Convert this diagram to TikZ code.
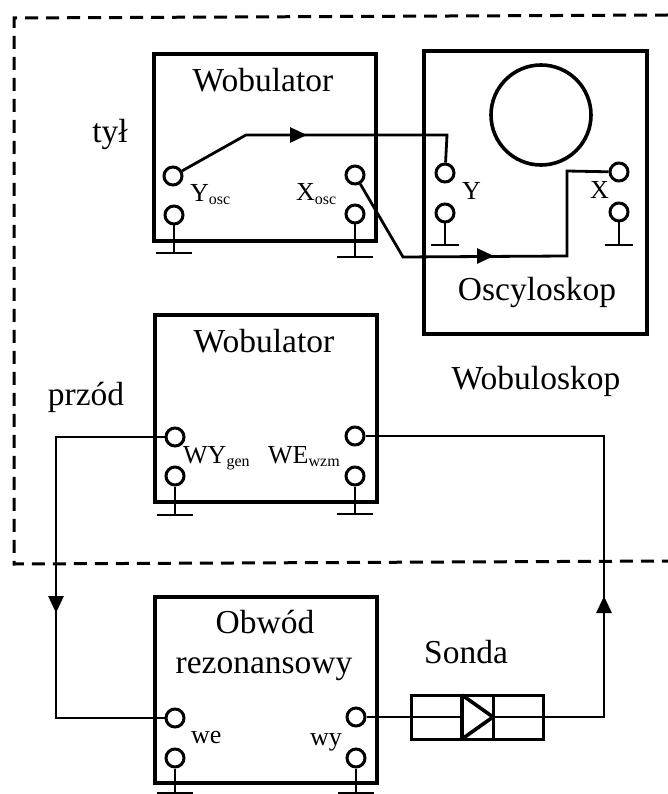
\documentclass[tikz,border=0pt]{standalone}
\usepackage{fontspec}
\setmainfont{Liberation Serif}
\usetikzlibrary{arrows.meta}
\newcommand{\bigtxt}{\fontsize{33.5}{36}\selectfont}
\newcommand{\labtxt}{\fontsize{26}{29}\selectfont}
\newcommand{\lowtxt}[1]{\raisebox{-3pt}{\fontsize{16}{18}\selectfont #1}}
\tikzset{
  unit/.style={draw,line width=4pt,minimum width=#1,inner sep=0pt,outer sep=0pt,anchor=north west},
  port/.style={draw,circle,line width=3pt,minimum size=18pt,inner sep=0pt},
  wire/.style={line width=2.8pt,line join=miter},
  arrowed/.style={line width=2.8pt,-{Triangle[length=17pt,width=15pt]}},
  txt/.style={anchor=base,inner sep=0pt,font=\bigtxt},
  ltxt/.style={anchor=base west,inner sep=0pt,font=\labtxt},
  gnd/.style={line width=2.8pt},
  border/.style={line width=3pt,dash pattern=on 13pt off 8pt}
}
\newcommand{\earth}[5]{% name, port, x, y, half bar
  \coordinate (#1) at (#3,#4);
  \coordinate (#1l) at (#3-#5,#4);
  \coordinate (#1r) at (#3+#5,#4);
  \draw[gnd] (#2.south) -- (#1);
  \draw[gnd] (#1l) -- (#1r);
}
\begin{document}
\begin{tikzpicture}[x=1pt,y=-1pt]
\useasboundingbox (0,0) rectangle (668,794);
% dashed enclosure
\coordinate (d1) at (668,15);
\coordinate (d2) at (14,18);
\coordinate (d3) at (14,564);
\coordinate (d4) at (668,561);
\draw[border] (d1) -- (d2) -- (d3) -- (d4);
% units
\node[unit=222pt,minimum height=187pt] (wob1) at (154,54) {};
\node[unit=223pt,minimum height=283pt] (osc) at (424,51) {};
\node[unit=222pt,minimum height=187pt] (wob2) at (155,315) {};
\node[unit=222pt,minimum height=186pt] (obw) at (155,597) {};
\node[draw,circle,line width=3.6pt,minimum size=100pt,inner sep=0pt] (screen) at (541,115) {};
% ports
\node[port] (yosc) at (173,176) {};
\node[port] (yoscg) at (174,215) {};
\node[port] (xosc) at (355,175) {};
\node[port] (xoscg) at (355,214) {};
\node[port] (yin) at (445,173) {};
\node[port] (ying) at (445,213) {};
\node[port] (xin) at (619,172) {};
\node[port] (xing) at (619,212) {};
\node[port] (wygen) at (175,437) {};
\node[port] (wyg) at (175,476) {};
\node[port] (wewzm) at (355,436) {};
\node[port] (weg) at (355,476) {};
\node[port] (we) at (175,718) {};
\node[port] (weo) at (175,758) {};
\node[port] (wy) at (356,717) {};
\node[port] (wyo) at (356,758) {};
% grounds
\earth{g1}{yoscg}{174}{253}{18}
\earth{g2}{xoscg}{355}{257}{18}
\earth{g3}{ying}{445}{245}{14}
\earth{g4}{xing}{619}{245}{14}
\earth{g5}{wyg}{175}{515}{18}
\earth{g6}{weg}{355}{514}{18}
\earth{g7}{weo}{175}{793}{18}
\earth{g8}{wyo}{356}{793}{18}
% probe
\node[draw,line width=3pt,minimum width=132pt,minimum height=44pt,inner sep=0pt,outer sep=0pt,anchor=north west] (sonda) at (411,695) {};
\coordinate (dl) at (462,717);
\coordinate (dlt) at (462,695);
\coordinate (dlb) at (462,739);
\coordinate (dr) at (493,717);
\coordinate (drt) at (493,695);
\coordinate (drb) at (493,739);
\draw[line width=4.5pt] (dlt) -- (dlb);
\draw[line width=3pt] (drt) -- (drb);
\draw[line width=3.6pt,line join=miter] (dlt) -- (dr) -- (dlb);
% wires
\coordinate (a1) at (246,135);
\coordinate (a2) at (307,135);
\coordinate (a0) at (285,135);
\coordinate (a3) at (447,135);
\draw[wire] (yosc) -- (a1) -- (a3) -- (yin);
\draw[arrowed] (a0) -- (a2);
\coordinate (b1) at (403,257);
\coordinate (b0) at (470,256);
\coordinate (b2) at (494,256);
\coordinate (b3) at (567,256);
\coordinate (b4) at (567,171);
\draw[wire] (xosc) -- (b1) -- (b3) -- (b4) -- (xin);
\draw[arrowed] (b0) -- (b2);
\coordinate (c1) at (56,437);
\coordinate (c0) at (56,590);
\coordinate (c2) at (56,613);
\coordinate (c3) at (56,718);
\draw[wire] (wygen) -- (c1) -- (c3) -- (we);
\draw[arrowed] (c0) -- (c2);
\coordinate (e1) at (604,717);
\coordinate (e0) at (604,620);
\coordinate (e2) at (604,596);
\coordinate (e3) at (604,436);
\draw[wire] (dr) -- (e1) -- (e3) -- (wewzm);
\draw[arrowed] (e0) -- (e2);
\draw[wire] (wy) -- (dl);
% texts
\node[txt] (t1) at (263,92) {Wobulator};
\node[txt] (t2) at (264,352) {Wobulator};
\node[txt] (t3) at (110,143) {tył};
\node[txt] (t4) at (86,405) {przód};
\node[txt] (t5) at (537,300) {Oscyloskop};
\node[txt] (t6) at (536,389) {Wobuloskop};
\node[txt] (t7) at (265,633) {Obwód};
\node[txt] (t8) at (264,673) {rezonansowy};
\node[txt] (t9) at (466,663) {Sonda};
\node[ltxt] (l1) at (190,202) {Y\lowtxt{osc}};
\node[ltxt] (l2) at (296,201) {X\lowtxt{osc}};
\node[ltxt] (l3) at (462,200) {Y};
\node[ltxt] (l4) at (590,199) {X};
\node[ltxt] (l5) at (183,463) {WY\lowtxt{gen}};
\node[ltxt] (l6) at (268,463) {WE\lowtxt{wzm}};
\node[ltxt] (l7) at (191,743) {we};
\node[ltxt] (l8) at (310,745) {wy};
\end{tikzpicture}
\end{document}
